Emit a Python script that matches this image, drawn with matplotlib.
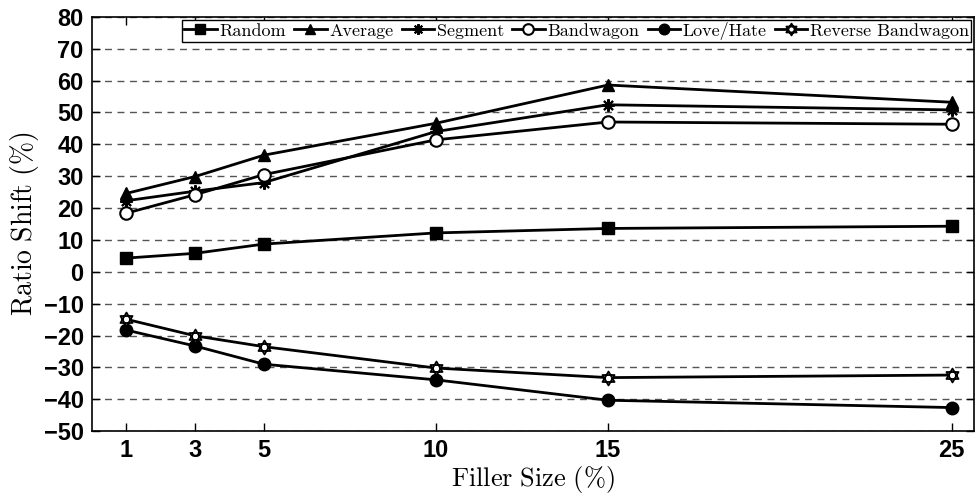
import matplotlib
matplotlib.use("Agg")
import matplotlib.pyplot as plt
from matplotlib.path import Path
import numpy as np

filler = [1, 3, 5, 10, 15, 25]
random_ = [4.3, 5.8, 8.7, 12.2, 13.6, 14.3]
average = [24.6, 29.9, 36.6, 46.6, 58.6, 53.2]
segment = [22.3, 25.3, 28.0, 44.0, 52.4, 50.8]
bandwagon = [18.4, 24.2, 30.5, 41.4, 47.0, 46.3]
love_hate = [-18.3, -23.3, -29.0, -33.9, -40.3, -42.6]
reverse_bw = [-14.9, -20.1, -23.5, -30.2, -33.2, -32.4]
series_names = ["Random", "Average", "Segment", "Bandwagon", "Love/Hate", "Reverse Bandwagon"]
yticks = list(range(-50, 81, 10))

plt.rcParams['mathtext.fontset'] = 'cm'

# hexagram marker (two overlapping triangles)
ang1 = np.deg2rad([90, 210, 330])
ang2 = np.deg2rad([270, 30, 150])
verts = []
codes = []
for ang in (ang1, ang2):
    pts = [(np.cos(a), np.sin(a)) for a in ang]
    verts += pts + [pts[0]]
    codes += [Path.MOVETO, Path.LINETO, Path.LINETO, Path.CLOSEPOLY]
hexagram = Path(verts, codes)

fig = plt.figure(figsize=(9.79, 4.95), dpi=100)
ax = fig.add_axes([0.094, 0.129, 0.901, 0.837])

styles = [
    dict(marker='s', mfc='black', ms=8),
    dict(marker='^', mfc='black', ms=9),
    dict(marker=(8, 2, 0), mfc='black', ms=9, mew=1.5),
    dict(marker='o', mfc='white', ms=9, mew=1.5),
    dict(marker='o', mfc='black', ms=9),
    dict(marker=hexagram, mfc='white', ms=10, mew=1.3),
]
data = [random_, average, segment, bandwagon, love_hate, reverse_bw]
for name, vals, st in zip(series_names, data, styles):
    ax.plot(filler, vals, color='black', lw=2, mec='black', label=name, **st)

ax.set_xlim(0, 25.65)
ax.set_ylim(-50, 80)
ax.set_xticks(filler)
ax.set_yticks(yticks)
ax.yaxis.grid(True, linestyle=(0, (5, 4)), color='#555555', lw=1)
ax.tick_params(direction='in', length=6, width=1, top=True, right=True, pad=6)
for lab in ax.get_xticklabels() + ax.get_yticklabels():
    lab.set_fontfamily('Liberation Sans')
    lab.set_fontweight('bold')
    lab.set_fontsize(17)
for s in ax.spines.values():
    s.set_linewidth(1.2)

ax.set_xlabel(r'$\mathrm{Filler\ Size\ (\%)}$', fontsize=19, labelpad=1)
ax.set_ylabel(r'$\mathrm{Ratio\ Shift\ (\%)}$', fontsize=20, labelpad=2)

leg = ax.legend(loc='upper right', ncol=6, frameon=True, fancybox=False,
                edgecolor='black', framealpha=1, prop={'family': 'cmr10', 'size': 13},
                handlelength=1.8, handletextpad=0.15, columnspacing=0.45,
                borderpad=0.12, borderaxespad=0.15, markerscale=0.85)
leg.get_frame().set_linewidth(1)

fig.savefig('out.png', dpi=100)
